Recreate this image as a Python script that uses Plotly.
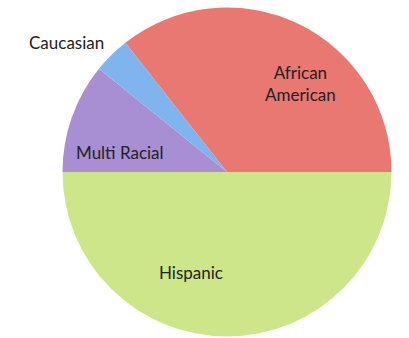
import plotly.graph_objects as go

labels = ["Hispanic", "Multi Racial", "Caucasian", "African American"]
values = [50.0, 10.8, 3.6, 35.6]
colors = ["#CDE689", "#A88ED2", "#80B4EE", "#EA7872"]
label_text = ["Hispanic", "Multi Racial", "Caucasian", "African<br>American"]
# label anchor positions in pixels (x from left, y from top)
label_px = [(191, 272), (120, 152), (66, 43), (300, 84)]

W, H = 409, 338
cx, cy, r = 227, 172, 164.5

fig = go.Figure(go.Pie(
    labels=labels,
    values=values,
    textinfo="none",
    sort=False,
    direction="clockwise",
    rotation=90,
    marker=dict(colors=colors, line=dict(width=0)),
    hoverinfo="label+percent",
    domain=dict(x=[(cx - r) / W, (cx + r) / W], y=[(H - cy - r) / H, (H - cy + r) / H]),
))
for t, (px, py) in zip(label_text, label_px):
    fig.add_annotation(
        x=px / W, y=1 - py / H, xref="paper", yref="paper",
        text=t, showarrow=False, xanchor="center", yanchor="middle",
        font=dict(family="Lato, Open Sans, sans-serif", size=17, color="#222222"),
    )
fig.update_layout(
    width=W, height=H,
    margin=dict(l=0, r=0, t=0, b=0),
    showlegend=False,
    paper_bgcolor="white",
)
fig.write_html("out.html")
